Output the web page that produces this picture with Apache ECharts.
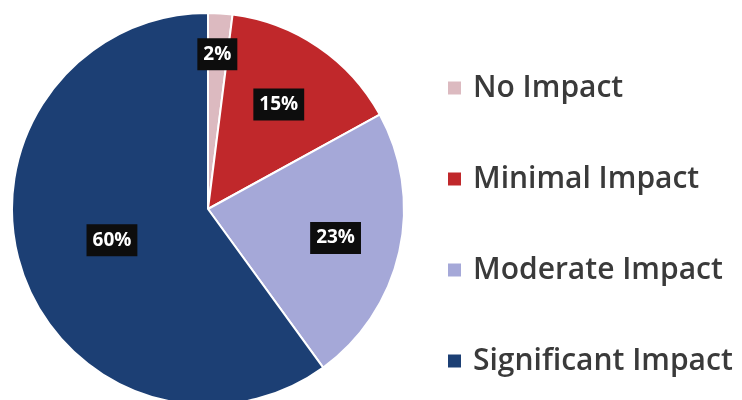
<!DOCTYPE html>
<html><head><meta charset="utf-8">
<script src="https://cdn.jsdelivr.net/npm/echarts@6/dist/echarts.min.js"></script>
<style>html,body{margin:0;padding:0;background:#fff}#c{width:742px;height:400px}</style>
</head><body><div id="c"></div>
<script>
const categories = ['No Impact', 'Minimal Impact', 'Moderate Impact', 'Significant Impact'];
const values = [2, 15, 23, 60];
const colors = ['#dcbac0', '#c0282b', '#a5a8d8', '#1c3f74'];
const labelShift = [[3, -54], [14, -21], [29, 7], [0, 0]];

const chart = echarts.init(document.getElementById('c'));
chart.setOption({
  backgroundColor: '#ffffff',
  animation: false,
  legend: {
    orient: 'vertical',
    left: 441,
    top: 67,
    itemWidth: 15,
    itemHeight: 15,
    itemGap: 59,
    icon: 'rect',
    textStyle: { fontFamily: 'Open Sans', fontWeight: 600, fontSize: 30, lineHeight: 32, color: '#3a3a3a', padding: [0, 0, 0, 6] },
    data: categories
  },
  series: [{
    type: 'pie',
    center: [208, 209],
    radius: 196,
    startAngle: 90,
    clockwise: true,
    itemStyle: { borderColor: '#ffffff', borderWidth: 2 },
    label: {
      position: 'inside',
      formatter: '{c}%',
      color: '#ffffff',
      fontFamily: 'Open Sans',
      fontWeight: 'bold',
      fontSize: 19,
      backgroundColor: '#0d0d0d',
      padding: [7, 6, 6, 6]
    },
    labelLayout: function (p) {
      return { dx: labelShift[p.dataIndex][0], dy: labelShift[p.dataIndex][1] };
    },
    data: categories.map((n, i) => ({ name: n, value: values[i], itemStyle: { color: colors[i] } }))
  }]
});
</script></body></html>
